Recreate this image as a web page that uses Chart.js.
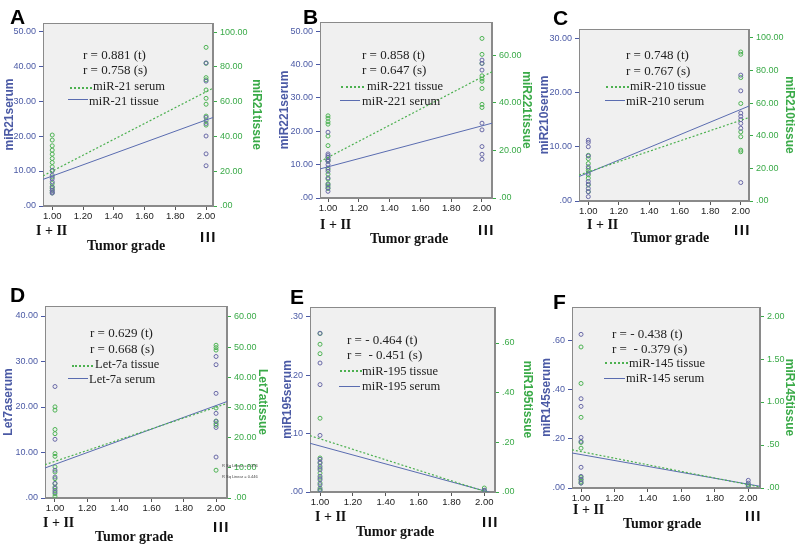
<!DOCTYPE html>
<html>
<head>
<meta charset="utf-8">
<script src="https://cdn.jsdelivr.net/npm/chart.js@4.4.1/dist/chart.umd.min.js"></script>
<style>
  body { margin: 0; background: #fff; width: 799px; height: 545px; position: relative; overflow: hidden; }
  canvas { position: absolute; }
  .t { position: absolute; white-space: pre; line-height: 1; color: #111; }
  .letter { font: bold 21px "Liberation Sans", Arial, sans-serif; color: #000; }
  .stat { font: 13px "Liberation Serif", "Times New Roman", serif; color: #222; }
  .leg { font: 12.5px "Liberation Serif", "Times New Roman", serif; color: #222; }
  .grade { font: bold 14px "Liberation Serif", "Times New Roman", serif; color: #111; }
  .roman { font: bold 15px "Liberation Sans", Arial, sans-serif; letter-spacing: 1.5px; color: #111; }
  .xt { font: bold 14px "Liberation Serif", "Times New Roman", serif; color: #111; }
  .rsq { font: 4px "Liberation Sans", Arial, sans-serif; color: #444; }
  .dot { position: absolute; height: 0; border-top: 2px dotted #4cb050; }
  .sol { position: absolute; height: 0; border-top: 1px solid #5a6cb0; }
</style>
</head>
<body>
<script>
// tick values shared by every panel
const gradeTicks = [1.0, 1.2, 1.4, 1.6, 1.8, 2.0];

// A: miR-21
const a21SerumLow = [10.2, 8.8, 7.8, 6.9, 5.4, 4.5, 4.0, 3.7];
const a21SerumHigh = [40.9, 35.7, 25.3, 23.6, 20.0, 14.9, 11.5];
const a21TissueLow = [40.8, 37.9, 34.6, 32.1, 29.8, 27.3, 25, 22.5, 20.2, 16.7, 12.9, 11, 10, 9, 7.5];
const a21TissueHigh = [91.2, 82, 73.8, 72.5, 66.7, 61.9, 58.5, 51.7, 49, 46.5];
const a21SerumFit = [7.6, 25.3];
const a21TissueFit = [17.3, 67.7];
const a21SerumTicks = [0, 10, 20, 30, 40, 50];
const a21TissueTicks = [0, 20, 40, 60, 80, 100];

// B: miR-221
const b221SerumLow = [19.7, 13.2, 12.7, 12.2, 11.5, 11, 10, 9, 8, 6, 4, 3, 2];
const b221SerumHigh = [41.3, 40.3, 38.3, 22.4, 20.4, 15.4, 13.1, 11.6];
const b221TissueLow = [34.5, 33.5, 32, 31, 26, 22, 17, 16, 15.5, 12, 10, 8, 6, 5, 4];
const b221TissueHigh = [67, 60.3, 56.5, 51.3, 50, 49, 46, 39.3, 38];
const b221SerumFit = [8.7, 22.4];
const b221TissueFit = [15.3, 53];
const b221SerumTicks = [0, 10, 20, 30, 40, 50];
const b221TissueTicks = [0, 20, 40, 60];

// C: miR-210
const c210SerumLow = [11.2, 10.8, 10.0, 8.3, 6.3, 5.1, 3.6, 3.1, 2.3, 1.7, 0.8];
const c210SerumHigh = [23.2, 20.3, 16.2, 15.6, 15, 14.3, 13.4, 3.4];
const c210TissueLow = [28, 26, 23, 20, 18.6, 16, 14, 9.8, 5.7];
const c210TissueHigh = [91.4, 90, 75.7, 59.8, 42.4, 39.4, 31.2, 30.2];
const c210SerumFit = [4.5, 17.5];
const c210TissueFit = [15.9, 51.2];
const c210SerumTicks = [0, 10, 20, 30];
const c210TissueTicks = [0, 20, 40, 60, 80, 100];

// D: Let-7a
const dLetSerumLow = [24.5, 12.9, 6.1, 4.6, 3.2, 2.1, 1.3];
const dLetSerumHigh = [31.1, 29.3, 23, 18.6, 16.8, 15.5, 9.0];
const dLetTissueLow = [30.2, 29.1, 22.7, 21.3, 14.7, 13.8, 10.3, 8.6, 6.4, 4.8, 3.6, 2.5, 1.4, 0.6];
const dLetTissueHigh = [50.6, 49.8, 49, 29.8, 25.5, 24.6, 24.1, 9.2];
const dLetSerumFit = [6.6, 21.2];
const dLetTissueFit = [11.05, 31.3];
const dLetSerumTicks = [0, 10, 20, 30, 40];
const dLetTissueTicks = [0, 10, 20, 30, 40, 50, 60];

// E: miR-195
const e195SerumLow = [0.272, 0.221, 0.184, 0.097, 0.056, 0.051, 0.044, 0.038, 0.027, 0.021, 0.0125, 0.004];
const e195SerumHigh = [0.003, 0.002];
const e195TissueLow = [0.638, 0.595, 0.557, 0.297, 0.137, 0.116, 0.096, 0.076, 0.056, 0.036, 0.016, 0.007];
const e195TissueHigh = [0.016, 0.004];
const e195SerumFit = [0.0835, -0.003];
const e195TissueFit = [0.227, -0.011];
const e195SerumTicks = [0, 0.1, 0.2, 0.3];
const e195TissueTicks = [0, 0.2, 0.4, 0.6];

// F: miR-145
const f145SerumLow = [0.623, 0.362, 0.331, 0.205, 0.189, 0.084, 0.047, 0.034, 0.020];
const f145SerumHigh = [0.031, 0.020, 0.009];
const f145TissueLow = [1.64, 1.216, 0.822, 0.529, 0.463, 0.127, 0.104, 0.077, 0.058];
const f145TissueHigh = [0.039, 0.019];
const f145SerumFit = [0.142, 0.007];
const f145TissueFit = [0.444, 0.012];
const f145SerumTicks = [0, 0.2, 0.4, 0.6];
const f145TissueTicks = [0, 0.5, 1.0, 1.5, 2.0];

const BLUE = '#4b5aa5';
const GREEN = '#3aaa48';

const panels = [
  { box: [0, 0, 265, 228], plot: [43, 23, 213, 206], x: [0.94, 2.045], yMax: 52.3, y1Max: 105.2,
    yTitle: 'miR21serum', y1Title: 'miR21tissue', yTitleX: 10, y1TitleX: 256,
    serum: [a21SerumLow, a21SerumHigh, a21SerumFit], tissue: [a21TissueLow, a21TissueHigh, a21TissueFit],
    yTicks: a21SerumTicks, y1Ticks: a21TissueTicks },
  { box: [265, 0, 270, 228], plot: [320, 22, 492, 198], x: [0.948, 2.065], yMax: 52.7, y1Max: 73.9,
    yTitle: 'miR221serum', y1Title: 'miR221tissue', yTitleX: 285, y1TitleX: 526,
    serum: [b221SerumLow, b221SerumHigh, b221SerumFit], tissue: [b221TissueLow, b221TissueHigh, b221TissueFit],
    yTicks: b221SerumTicks, y1Ticks: b221TissueTicks },
  { box: [530, 0, 269, 228], plot: [579, 29, 749, 201], x: [0.939, 2.054], yMax: 31.7, y1Max: 105.5,
    yTitle: 'miR210serum', y1Title: 'miR210tissue', yTitleX: 545, y1TitleX: 789,
    serum: [c210SerumLow, c210SerumHigh, c210SerumFit], tissue: [c210TissueLow, c210TissueHigh, c210TissueFit],
    yTicks: c210SerumTicks, y1Ticks: c210TissueTicks },
  { box: [0, 270, 270, 250], plot: [45, 306, 227, 498], x: [0.938, 2.068], yMax: 42.2, y1Max: 63.6,
    yTitle: 'Let7aserum', y1Title: 'Let7atissue', yTitleX: 9, y1TitleX: 262,
    serum: [dLetSerumLow, dLetSerumHigh, dLetSerumFit], tissue: [dLetTissueLow, dLetTissueHigh, dLetTissueFit],
    yTicks: dLetSerumTicks, y1Ticks: dLetTissueTicks },
  { box: [265, 270, 270, 250], plot: [310, 307, 495, 492], x: [0.939, 2.065], yMax: 0.317, y1Max: 0.745,
    yTitle: 'miR195serum', y1Title: 'miR195tissue', yTitleX: 288, y1TitleX: 527,
    serum: [e195SerumLow, e195SerumHigh, e195SerumFit], tissue: [e195TissueLow, e195TissueHigh, e195TissueFit],
    yTicks: e195SerumTicks, y1Ticks: e195TissueTicks },
  { box: [530, 270, 269, 250], plot: [572, 307, 760, 488], x: [0.946, 2.07], yMax: 0.734, y1Max: 2.105,
    yTitle: 'miR145serum', y1Title: 'miR145tissue', yTitleX: 547, y1TitleX: 789,
    serum: [f145SerumLow, f145SerumHigh, f145SerumFit], tissue: [f145TissueLow, f145TissueHigh, f145TissueFit],
    yTicks: f145SerumTicks, y1Ticks: f145TissueTicks }
];

// SPSS style numbers: ".00", ".20", "10.00"
function fmt(v) {
  const s = Number(v).toFixed(2);
  return s.startsWith('0.') ? s.slice(1) : s;
}

function points(low, high) {
  return low.map(v => ({ x: 1, y: v })).concat(high.map(v => ({ x: 2, y: v })));
}

const plotBg = {
  id: 'plotBg',
  beforeDraw(chart) {
    const { ctx, chartArea: a } = chart;
    ctx.save();
    ctx.fillStyle = '#f0f0f0';
    ctx.fillRect(a.left, a.top, a.width, a.height);
    ctx.strokeStyle = '#8a8a8a';
    ctx.lineWidth = 1;
    ctx.strokeRect(a.left + 0.5, a.top + 0.5, a.width - 1, a.height - 1);
    ctx.restore();
  }
};

function yAxis(p, side) {
  const left = side === 'left';
  const color = left ? BLUE : GREEN;
  const ticks = left ? p.yTicks : p.y1Ticks;
  const titleX = left ? p.yTitleX : p.y1TitleX;
  const pad = left ? titleX - p.box[0] - 7.2 : p.box[0] + p.box[2] - titleX - 7.2;
  return {
    type: 'linear',
    position: side,
    min: 0,
    max: left ? p.yMax : p.y1Max,
    afterBuildTicks: s => { s.ticks = ticks.map(v => ({ value: v })); },
    afterFit: s => { s.width = left ? p.plot[0] - p.box[0] : p.box[0] + p.box[2] - p.plot[2]; },
    ticks: { color: color, font: { family: 'Liberation Sans', size: 9 }, padding: 3, callback: fmt },
    grid: { drawOnChartArea: false, tickLength: 4, color: color },
    border: { color: '#8a8a8a' },
    title: { display: true, text: left ? p.yTitle : p.y1Title, color: color,
             font: { family: 'Liberation Sans', size: 12, weight: 'bold' }, padding: { top: Math.max(pad, 0), bottom: 0 } }
  };
}

function makeChart(p) {
  const cv = document.createElement('canvas');
  cv.width = p.box[2];
  cv.height = p.box[3];
  cv.style.left = p.box[0] + 'px';
  cv.style.top = p.box[1] + 'px';
  cv.style.width = p.box[2] + 'px';
  cv.style.height = p.box[3] + 'px';
  document.body.appendChild(cv);

  new Chart(cv, {
    type: 'scatter',
    data: {
      datasets: [
        { type: 'line', data: [{ x: p.x[0], y: p.tissue[2][0] }, { x: p.x[1], y: p.tissue[2][1] }], yAxisID: 'y1',
          borderColor: '#4cb050', borderWidth: 1.2, borderDash: [2, 2], pointRadius: 0, fill: false },
        { type: 'line', data: [{ x: p.x[0], y: p.serum[2][0] }, { x: p.x[1], y: p.serum[2][1] }], yAxisID: 'y',
          borderColor: '#5a6cb0', borderWidth: 1, pointRadius: 0, fill: false },
        { data: points(p.serum[0], p.serum[1]), yAxisID: 'y',
          borderColor: '#6a6aa8', backgroundColor: 'transparent', pointRadius: 2, borderWidth: 1 },
        { data: points(p.tissue[0], p.tissue[1]), yAxisID: 'y1',
          borderColor: '#4fb455', backgroundColor: 'transparent', pointRadius: 2, borderWidth: 1 }
      ]
    },
    options: {
      responsive: false,
      animation: false,
      events: [],
      layout: { padding: { top: p.plot[1] - p.box[1], left: 0, right: 0, bottom: 0 } },
      plugins: { legend: { display: false }, tooltip: { enabled: false } },
      scales: {
        x: {
          type: 'linear',
          min: p.x[0],
          max: p.x[1],
          afterBuildTicks: s => { s.ticks = gradeTicks.map(v => ({ value: v })); },
          afterFit: s => { s.height = p.box[1] + p.box[3] - p.plot[3]; },
          ticks: { color: '#222', font: { family: 'Liberation Sans', size: 9.5 }, padding: 1, maxRotation: 0, autoSkip: false, callback: fmt },
          grid: { drawOnChartArea: false, tickLength: 4, color: '#555' },
          border: { color: '#8a8a8a' }
        },
        y: yAxis(p, 'left'),
        y1: yAxis(p, 'right')
      }
    },
    plugins: [plotBg]
  });
}

panels.forEach(makeChart);

function label(text, x, y, cls) {
  const d = document.createElement('div');
  d.className = 't ' + cls;
  d.textContent = text;
  document.body.appendChild(d);
  const size = parseFloat(getComputedStyle(d).fontSize);
  d.style.left = x + 'px';
  d.style.top = (y - size / 2) + 'px';
}

function swatch(cls, x1, x2, y) {
  const d = document.createElement('div');
  d.className = cls;
  d.style.left = x1 + 'px';
  d.style.top = y + 'px';
  d.style.width = (x2 - x1) + 'px';
  document.body.appendChild(d);
}

// A
label('A', 10, 15, 'letter');
label('r = 0.881 (t)', 83, 53, 'stat');
label('r = 0.758 (s)', 83, 68, 'stat');
swatch('dot', 70, 92, 87);
label('miR-21 serum', 93, 85, 'leg');
swatch('sol', 68, 88, 99);
label('miR-21 tissue', 89, 100, 'leg');
label('I + II', 36, 230, 'grade');
label('III', 200, 235, 'roman');
label('Tumor grade', 87, 245, 'xt');

// B
label('B', 303, 15, 'letter');
label('r = 0.858 (t)', 362, 53, 'stat');
label('r = 0.647 (s)', 362, 68, 'stat');
swatch('dot', 341, 364, 86);
label('miR-221 tissue', 367, 85, 'leg');
swatch('sol', 340, 360, 100);
label('miR-221 serum', 362, 100, 'leg');
label('I + II', 320, 224, 'grade');
label('III', 478, 228, 'roman');
label('Tumor grade', 370, 238, 'xt');

// C
label('C', 553, 16, 'letter');
label('r = 0.748 (t)', 626, 53, 'stat');
label('r = 0.767 (s)', 626, 69, 'stat');
swatch('dot', 606, 629, 86);
label('miR-210 tissue', 630, 85, 'leg');
swatch('sol', 605, 625, 100);
label('miR-210 serum', 626, 100, 'leg');
label('I + II', 587, 224, 'grade');
label('III', 734, 228, 'roman');
label('Tumor grade', 631, 237, 'xt');

// D
label('D', 10, 293, 'letter');
label('r = 0.629 (t)', 90, 331, 'stat');
label('r = 0.668 (s)', 90, 347, 'stat');
swatch('dot', 72, 93, 365);
label('Let-7a tissue', 95, 363, 'leg');
swatch('sol', 68, 88, 378);
label('Let-7a serum', 89, 378, 'leg');
label('R Sq Linear = 0.396', 222, 465, 'rsq');
label('R Sq Linear = 0.446', 222, 476, 'rsq');
label('I + II', 43, 522, 'grade');
label('III', 213, 525, 'roman');
label('Tumor grade', 95, 536, 'xt');

// E
label('E', 290, 295, 'letter');
label('r = - 0.464 (t)', 347, 338, 'stat');
label('r =  - 0.451 (s)', 347, 353, 'stat');
swatch('dot', 340, 362, 370);
label('miR-195 tissue', 362, 370, 'leg');
swatch('sol', 339, 360, 386);
label('miR-195 serum', 362, 385, 'leg');
label('I + II', 315, 516, 'grade');
label('III', 482, 520, 'roman');
label('Tumor grade', 356, 531, 'xt');

// F
label('F', 553, 300, 'letter');
label('r = - 0.438 (t)', 612, 332, 'stat');
label('r =  - 0.379 (s)', 612, 347, 'stat');
swatch('dot', 605, 628, 362);
label('miR-145 tissue', 629, 362, 'leg');
swatch('sol', 604, 625, 378);
label('miR-145 serum', 626, 377, 'leg');
label('I + II', 573, 509, 'grade');
label('III', 745, 514, 'roman');
label('Tumor grade', 623, 523, 'xt');
</script>
</body>
</html>
